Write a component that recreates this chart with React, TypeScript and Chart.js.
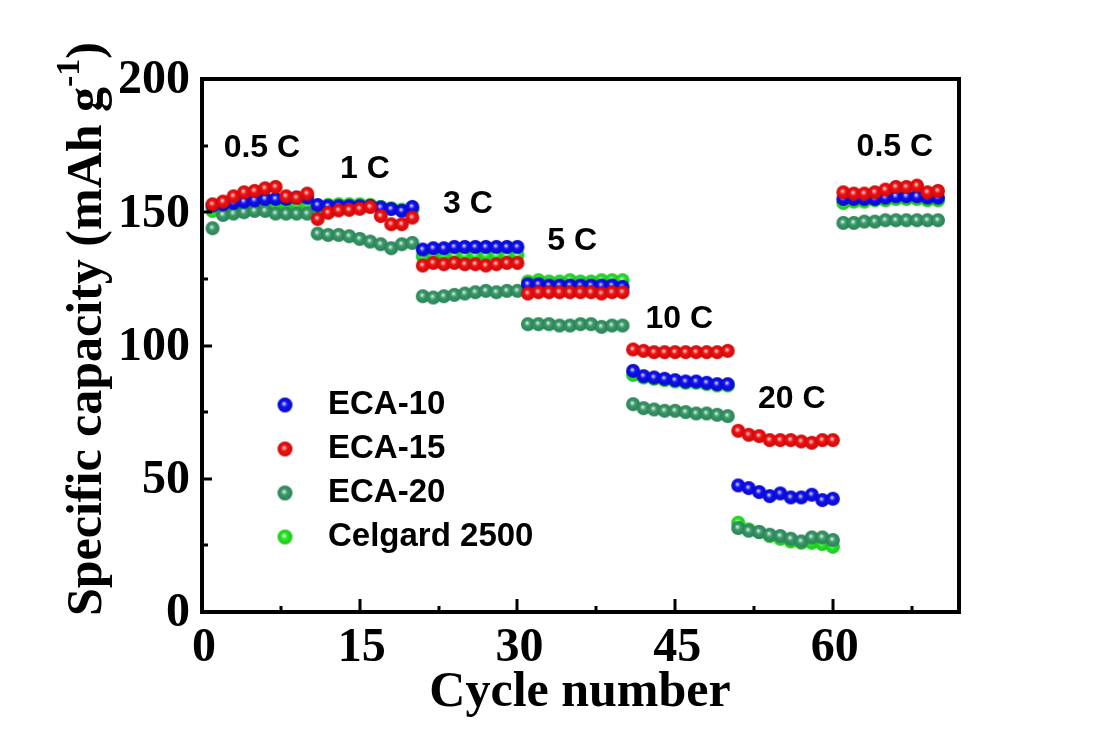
import React, { useEffect, useRef } from "react";
import { Chart, registerables } from "chart.js";

Chart.register(...registerables);

// ---------- data ----------
const cycles = [
  1, 2, 3, 4, 5, 6, 7, 8, 9, 10,
  11, 12, 13, 14, 15, 16, 17, 18, 19, 20,
  21, 22, 23, 24, 25, 26, 27, 28, 29, 30,
  31, 32, 33, 34, 35, 36, 37, 38, 39, 40,
  41, 42, 43, 44, 45, 46, 47, 48, 49, 50,
  51, 52, 53, 54, 55, 56, 57, 58, 59, 60,
  61, 62, 63, 64, 65, 66, 67, 68, 69, 70,
];

const eca10 = [
  152.5, 153, 153.5, 154, 154.5, 155, 155, 155, 155.5, 155.5,
  152.7, 152.3, 152.3, 152.3, 152.3, 152.3, 151.8, 151.2, 150.5, 152,
  136, 136.5, 136.5, 137, 137, 137, 137, 137, 137, 137,
  123, 123, 122.5, 122.5, 122.5, 122.5, 122.5, 122.5, 122.5, 122,
  90.5, 88.5, 88, 87.5, 87, 86.5, 86.5, 86, 85.5, 85.5,
  47.5, 46.5, 45, 43.5, 44.5, 43, 43, 44, 42, 42.5,
  155, 155, 155, 155, 155.5, 156, 156, 156, 155.5, 155.5,
];

const eca15 = [
  153, 154, 156, 157.5, 158, 159, 159.5, 156, 155.5, 157,
  147.5, 149.8, 150.7, 150.9, 151.3, 152, 148.6, 145.5, 145.5, 148,
  130, 131, 130.5, 131, 130.5, 130.5, 130, 130.5, 131, 131,
  119.5, 120, 120, 120, 120, 120, 120, 119.5, 120, 120,
  98.5, 98, 97.5, 97.5, 97.5, 97.5, 97.5, 97.5, 97.5, 98,
  68, 66.5, 66, 64.5, 64.5, 64.5, 64, 63.5, 64.5, 64.5,
  157.5, 157, 157, 157.5, 158.5, 159.5, 159.5, 160, 157.5, 158,
];

const eca20 = [
  144, 149, 149.5, 150, 150.5, 150.5, 149.5, 149.5, 149.5, 149.5,
  142, 141.5, 141.5, 141, 140, 139, 138, 136.5, 138, 138.5,
  118.5, 118, 118.5, 119, 119.5, 120, 120.5, 120, 120.5, 120.5,
  108, 108, 108, 107.5, 107.5, 108, 108, 107, 107.5, 107.5,
  78, 76.5, 76, 75.5, 75.5, 75, 74.5, 74.5, 74, 73.5,
  31.5, 30.5, 30, 29, 28.5, 27.5, 26.5, 28, 28, 27,
  146, 146, 146.5, 146.5, 147, 147, 147, 147, 147, 147,
];

const celgard = [
  150.5, 151, 152, 152, 152.5, 153, 153, 153, 153, 153,
  152, 152.8, 153, 153, 153, 152.8, 152, 151.5, 151, 151,
  133.5, 134, 134, 134, 134, 134, 134, 134, 134, 134,
  124, 124.5, 124, 124, 124.5, 124, 124, 124.5, 124.5, 124.5,
  89, 88, 87.5, 87, 86.5, 86, 86, 85.5, 85, 85,
  33.5, 31, 30, 28.5, 27.5, 26.5, 26, 26, 25.5, 24.5,
  153.5, 154, 154, 154.5, 154.5, 155, 155, 155, 154.5, 154.5,
];

const seriesNames = ["ECA-10", "ECA-15", "ECA-20", "Celgard 2500"];

const rateLabels = ["0.5 C", "1 C", "3 C", "5 C", "10 C", "20 C", "0.5 C"];
const rateLabelCycle = [5.7, 15.5, 25.3, 35.2, 45.4, 56.1, 65.9];
const rateLabelCapacity = [174, 166, 153, 139, 110, 80, 174.5];

const xTickValues = [0, 15, 30, 45, 60];
const xMinorTickValues = [7.5, 22.5, 37.5, 52.5, 67.5];
const yTickValues = [0, 50, 100, 150, 200];
const yMinorTickValues = [25, 75, 125, 175];

// ---------- styling ----------
const SERIF = '"Liberation Serif", "Times New Roman", serif';
const SANS = '"Liberation Sans", Arial, sans-serif';

const seriesColors: [number, number, number][] = [
  [10, 10, 240],
  [240, 10, 10],
  [50, 150, 100],
  [30, 230, 30],
];

function mix(c: [number, number, number], t: [number, number, number], k: number) {
  return `rgb(${Math.round(c[0] + (t[0] - c[0]) * k)},${Math.round(c[1] + (t[1] - c[1]) * k)},${Math.round(c[2] + (t[2] - c[2]) * k)})`;
}

function makeBall(color: [number, number, number], r: number): HTMLCanvasElement {
  const c = document.createElement("canvas");
  const s = Math.ceil(r * 2) + 2;
  c.width = s;
  c.height = s;
  const ctx = c.getContext("2d")!;
  const cx = s / 2;
  const cy = s / 2;
  const g = ctx.createRadialGradient(cx - r * 0.15, cy - r * 0.2, 0, cx, cy, r);
  g.addColorStop(0, "rgb(255,255,255)");
  g.addColorStop(0.18, mix(color, [255, 255, 255], 0.5));
  g.addColorStop(0.42, mix(color, [255, 255, 255], 0.03));
  g.addColorStop(1, mix(color, [0, 0, 0], 0.15));
  ctx.fillStyle = g;
  ctx.beginPath();
  ctx.arc(cx, cy, r, 0, Math.PI * 2);
  ctx.fill();
  return c;
}

export default function App() {
  const canvasRef = useRef<HTMLCanvasElement | null>(null);

  useEffect(() => {
    document.body.style.margin = "0";
    const canvas = canvasRef.current;
    if (!canvas) return;

    const balls = seriesColors.map((c) => makeBall(c, 7));
    const legendBalls = seriesColors.map((c) => makeBall(c, 7.5));
    const allSeries = [eca10, eca15, eca20, celgard];
    const drawOrder = [1, 0, 2, 3];

    const datasets = allSeries.map((vals, i) => ({
      label: seriesNames[i],
      data: vals.map((v, j) => ({ x: cycles[j], y: v })),
      pointStyle: balls[i] as any,
      pointRadius: 7,
      showLine: false,
      order: drawOrder[i],
      backgroundColor: mix(seriesColors[i], [0, 0, 0], 0),
      borderColor: mix(seriesColors[i], [0, 0, 0], 0),
    }));

    const decor = {
      id: "decor",
      afterDraw(chart: any) {
        const ctx = chart.ctx as CanvasRenderingContext2D;
        const { left, right, top, bottom } = chart.chartArea;
        const xs = chart.scales.x;
        const ys = chart.scales.y;
        ctx.save();
        // frame
        ctx.strokeStyle = "#000";
        ctx.lineWidth = 4;
        ctx.strokeRect(left, top, right - left, bottom - top);

        // ticks
        ctx.lineWidth = 3;
        ctx.beginPath();
        yTickValues.forEach((v) => {
          const py = Math.round(ys.getPixelForValue(v));
          if (v === 0 || v === 200) return;
          ctx.moveTo(left, py);
          ctx.lineTo(left + 10, py);
        });
        yMinorTickValues.forEach((v) => {
          const py = Math.round(ys.getPixelForValue(v));
          ctx.moveTo(left, py);
          ctx.lineTo(left + 6, py);
        });
        xTickValues.forEach((v) => {
          if (v === 0) return;
          const px = Math.round(xs.getPixelForValue(v));
          ctx.moveTo(px, bottom);
          ctx.lineTo(px, bottom - 13);
        });
        xMinorTickValues.forEach((v) => {
          const px = Math.round(xs.getPixelForValue(v));
          ctx.moveTo(px, bottom);
          ctx.lineTo(px, bottom - 6);
        });
        ctx.stroke();

        // tick labels
        ctx.fillStyle = "#000";
        ctx.font = `bold 48px ${SERIF}`;
        ctx.textAlign = "right";
        ctx.textBaseline = "middle";
        yTickValues.forEach((v) => {
          ctx.fillText(String(v), left - 12, ys.getPixelForValue(v) + 2);
        });
        ctx.textAlign = "center";
        xTickValues.forEach((v) => {
          ctx.fillText(String(v), xs.getPixelForValue(v) + 2, bottom + 37);
        });

        // x title
        ctx.font = `bold 50px ${SERIF}`;
        ctx.textAlign = "center";
        ctx.textBaseline = "alphabetic";
        ctx.fillText("Cycle number", 580, 706);

        // y title (rotated, with superscript)
        const main1 = "Specific capacity (mAh g";
        const sup = "-1";
        const main2 = ")";
        ctx.font = `bold 50px ${SERIF}`;
        const w1 = ctx.measureText(main1).width;
        const w3 = ctx.measureText(main2).width;
        ctx.font = `bold 34px ${SERIF}`;
        const w2 = ctx.measureText(sup).width;
        const total = w1 + w2 + w3;
        ctx.translate(101, 329);
        ctx.rotate(-Math.PI / 2);
        ctx.textAlign = "left";
        let x0 = -total / 2;
        ctx.font = `bold 50px ${SERIF}`;
        ctx.fillText(main1, x0, 0);
        x0 += w1;
        ctx.font = `bold 34px ${SERIF}`;
        ctx.fillText(sup, x0, -22);
        x0 += w2;
        ctx.font = `bold 50px ${SERIF}`;
        ctx.fillText(main2, x0, 0);
        ctx.setTransform(1, 0, 0, 1, 0, 0);

        // rate annotations
        ctx.font = `bold 32px ${SANS}`;
        ctx.textAlign = "center";
        ctx.textBaseline = "middle";
        rateLabels.forEach((t, i) => {
          ctx.fillText(t, xs.getPixelForValue(rateLabelCycle[i]), ys.getPixelForValue(rateLabelCapacity[i]));
        });

        // legend
        ctx.font = `bold 33px ${SANS}`;
        ctx.textAlign = "left";
        ctx.textBaseline = "middle";
        seriesNames.forEach((name, i) => {
          const cy = 405 + i * 44;
          const b = legendBalls[i];
          ctx.drawImage(b, 285 - b.width / 2, cy - b.height / 2);
          ctx.fillText(name, 328, cy);
        });
        ctx.restore();
      },
    };

    const chart = new Chart(canvas, {
      type: "scatter",
      data: { datasets: datasets as any },
      options: {
        animation: false,
        responsive: false,
        maintainAspectRatio: false,
        layout: { padding: { left: 202, right: 151, top: 79, bottom: 123 } },
        plugins: {
          legend: { display: false },
          title: { display: false },
          tooltip: { enabled: false },
        },
        scales: {
          x: { type: "linear", min: 0, max: 72, display: false },
          y: { type: "linear", min: 0, max: 200, display: false },
        },
      },
      plugins: [decor],
    });

    return () => {
      chart.destroy();
    };
  }, []);

  return (
    <div style={{ width: 1110, height: 735, background: "#fff" }}>
      <canvas ref={canvasRef} width={1110} height={735} style={{ display: "block" }} />
    </div>
  );
}
